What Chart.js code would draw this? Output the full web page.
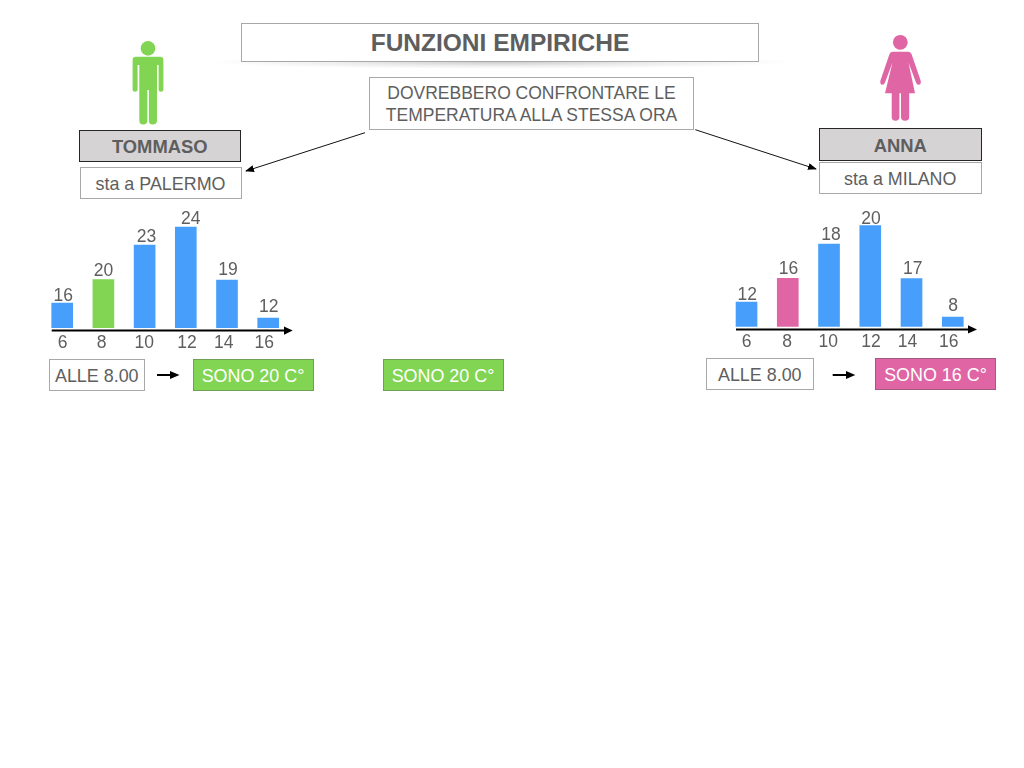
<!DOCTYPE html>
<html lang="it">
<head>
<meta charset="utf-8">
<title>Funzioni empiriche</title>
<script src="https://cdn.jsdelivr.net/npm/chart.js@4"></script>
<style>
html,body{margin:0;padding:0;background:#fff;width:1024px;height:768px;overflow:hidden}
body{position:relative;font-family:"Liberation Sans",Arial,sans-serif;color:#5e5e5e}
.b{position:absolute;box-sizing:border-box;display:flex;align-items:center;justify-content:center;text-align:center;white-space:nowrap;border:1.5px solid #a8a8a8;background:#fff;font-size:17.9px;padding-top:3px}
.n{background:#d5d3d4;border:1.5px solid #262626;font-weight:bold;font-size:18.4px}
.g{background:#81d552;border-color:#6f9f55;color:#fff}
.p{background:#e065a5;border-color:#a05a80;color:#fff}
canvas{position:absolute}
svg{position:absolute;left:0;top:0}
</style>
</head>
<body>
<svg width="1024" height="768" viewBox="0 0 1024 768">
  <defs>
    <radialGradient id="sh"><stop offset="0" stop-color="#000" stop-opacity=".2"/><stop offset=".55" stop-color="#000" stop-opacity=".07"/><stop offset="1" stop-color="#000" stop-opacity="0"/></radialGradient>
    <marker id="ah" markerUnits="userSpaceOnUse" markerWidth="9" markerHeight="7" refX="8" refY="3.5" orient="auto"><path d="M0 0L9 3.5L0 7z" fill="#000"/></marker>
  </defs>
  <ellipse cx="500" cy="62" rx="295" ry="7" fill="url(#sh)"/>
  <line x1="365" y1="132.7" x2="246" y2="171" stroke="#111" stroke-width="1" marker-end="url(#ah)"/>
  <line x1="695.3" y1="129.7" x2="816" y2="169" stroke="#111" stroke-width="1" marker-end="url(#ah)"/>
  <g fill="#81d552">
    <circle cx="148" cy="48.4" r="7.3"/>
    <path d="M136 56.7H160Q163.4 56.7 163.4 60V90Q163.4 91.8 160.9 91.8Q158.6 91.8 158.6 90V65H157V120.5Q157 124.4 152.4 124.4Q148.9 124.4 148.9 120.5V90H147.4V120.5Q147.4 124.4 143.2 124.4Q139.3 124.4 139.3 120.5V65H137.6V90Q137.6 91.8 135 91.8Q132.6 91.8 132.6 90V60Q132.6 56.7 136 56.7Z"/>
  </g>
  <g fill="#e065a5">
    <circle cx="900.3" cy="42.3" r="7.4"/>
    <path d="M893 51.7H908Q910.5 51.7 911.5 54L920.8 81Q921.2 84.5 918.8 84.8Q917 85 916 82.5L908.5 62.5L915 93.3H909.2V117Q909.2 120.8 905 120.8Q901 120.8 901 117V93.3H899.4V117Q899.4 120.8 895.5 120.8Q891.7 120.8 891.7 117V93.3H885L892.5 62.5L885 82.5Q884 85 882.2 84.8Q880 84.5 880.3 81L889.5 54Q890.5 51.7 893 51.7Z"/>
  </g>
  <g stroke="#000" stroke-width="2" fill="#000">
    <line x1="51.7" y1="330.6" x2="285" y2="330.6"/><path d="M284 326.5L292.7 330.6L284 334.7z" stroke="none"/>
    <line x1="736" y1="329.4" x2="969" y2="329.4"/><path d="M968 325.3L977 329.4L968 333.5z" stroke="none"/>
    <line x1="157" y1="375" x2="171" y2="375"/><path d="M170 371L179.5 375L170 379z" stroke="none"/>
    <line x1="832.7" y1="375" x2="847" y2="375"/><path d="M846 371L855.3 375L846 379z" stroke="none"/>
  </g>
</svg>

<div class="b" style="left:241px;top:23px;width:518px;height:39px;font-size:24.5px;font-weight:bold;padding-top:0">FUNZIONI EMPIRICHE</div>
<div class="b" style="left:369px;top:77px;width:325px;height:53px;line-height:22px;font-size:17.5px;padding-top:0">DOVREBBERO CONFRONTARE LE<br>TEMPERATURA ALLA STESSA ORA</div>
<div class="b n" style="left:78.5px;top:129.5px;width:162.5px;height:32.5px">TOMMASO</div>
<div class="b" style="left:79.5px;top:167px;width:162px;height:31.5px">sta a PALERMO</div>
<div class="b n" style="left:819px;top:128px;width:162.5px;height:32.5px">ANNA</div>
<div class="b" style="left:819px;top:162px;width:162.5px;height:31.5px">sta a MILANO</div>
<div class="b" style="left:48.5px;top:359px;width:96.5px;height:31.5px">ALLE 8.00</div>
<div class="b g" style="left:192.5px;top:359px;width:121px;height:31.5px">SONO 20 C°</div>
<div class="b g" style="left:382.5px;top:359px;width:121px;height:31.5px">SONO 20 C°</div>
<div class="b" style="left:706px;top:358px;width:107.5px;height:31.5px">ALLE 8.00</div>
<div class="b p" style="left:875px;top:358px;width:121px;height:31.5px">SONO 16 C°</div>

<canvas id="tom" width="280" height="170" style="left:30px;top:200px"></canvas>
<canvas id="ann" width="300" height="170" style="left:700px;top:200px"></canvas>

<script>
// Hours on the horizontal axis
const hours = ["6", "8", "10", "12", "14", "16"];

// Temperatures as printed above each bar
const tommasoPrinted = [16, 20, 23, 24, 19, 12];
const annaPrinted = [12, 16, 18, 20, 17, 8];

// The source bars are not drawn to scale with the printed numbers,
// so the drawn bar heights are read separately from the picture.
const tommasoBars = [25, 48.5, 83, 101, 48, 10];
const annaBars = [24.7, 48.4, 82.7, 101, 48, 9.7];

const BLUE = "#479ffb", GREEN = "#81d552", PINK = "#e065a5", TEXT = "#5e5e5e";
const FONT = '"Liberation Sans", Arial, sans-serif';

const nudgePlugin = {
  id: "hand",
  beforeDraw(chart) {
    const o = chart.options.plugins.hand, sc = chart.scales.x;
    const items = sc.getLabelItems(chart.chartArea);
    if (!items._done) {
      items.forEach((it, i) => { it.options.translation[0] += o.tickDx[i]; });
      items._done = true;
    }
  },
  afterDatasetsDraw(chart) {
    const o = chart.options.plugins.hand, ctx = chart.ctx;
    ctx.save();
    ctx.font = "17.5px " + FONT;
    ctx.fillStyle = TEXT;
    ctx.textAlign = "center";
    ctx.textBaseline = "middle";
    chart.getDatasetMeta(0).data.forEach((bar, i) => {
      ctx.fillText(String(o.printed[i]), bar.x + o.valDx[i], bar.y + o.valDy[i] + 1);
    });
    ctx.restore();
  }
};

function make(id, bars, printed, accent, pad, tickPad, tickDx, valDx, valDy) {
  return new Chart(document.getElementById(id), {
    type: "bar",
    data: {
      labels: hours,
      datasets: [{
        data: bars,
        backgroundColor: hours.map((h) => (h === "8" ? accent : BLUE)),
        borderWidth: 0,
        barThickness: 21
      }]
    },
    options: {
      responsive: false,
      animation: false,
      layout: { padding: pad },
      plugins: {
        legend: { display: false },
        tooltip: { enabled: false },
        title: { display: false },
        hand: { printed, tickDx, valDx, valDy }
      },
      scales: {
        x: {
          offset: true,
          grid: { display: false, drawTicks: false },
          border: { display: false },
          afterFit(s) { s.height = 30; },
          ticks: {
            color: TEXT, padding: tickPad, maxRotation: 0, autoSkip: false,
            font: { family: FONT, size: 17.5 }
          }
        },
        y: { display: false, min: 0, max: 120 }
      }
    },
    plugins: [nudgePlugin]
  });
}

make("tom", tommasoBars, tommasoPrinted, GREEN,
  { left: 11.6, right: 21.2, top: 8, bottom: 12 }, 5,
  [0.5, -1.7, -0.3, 1.2, -3.3, -4],
  [1, 0, 2, 5, 1, 0.5],
  [-8, -9.6, -9, -8.7, -11, -12]);

make("ann", annaBars, annaPrinted, PINK,
  { left: 25.9, right: 26.6, top: 6.7, bottom: 13.3 }, 5.3,
  [0, -0.7, -0.7, 0.7, -4, -4],
  [0.8, 0.6, 2, 0.7, 1.2, 0.3],
  [-8, -10, -10, -7.5, -10.7, -12]);
</script>
</body>
</html>
